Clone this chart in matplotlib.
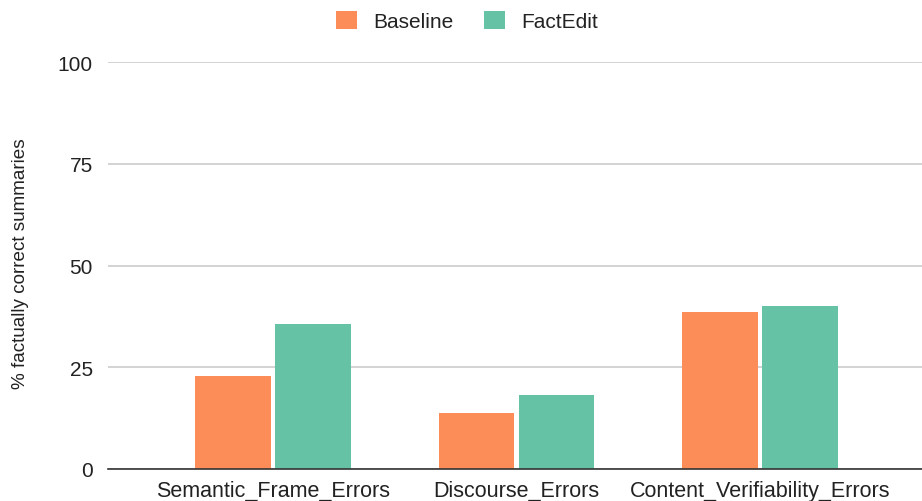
import matplotlib.pyplot as plt
import numpy as np

plt.rcParams['font.family'] = ['Liberation Sans', 'DejaVu Sans']

categories = ['Semantic_Frame_Errors', 'Discourse_Errors', 'Content_Verifiability_Errors']
baseline = [22.9, 13.8, 38.7]
factedit = [35.6, 18.2, 40.0]
yticks = [0, 25, 50, 75, 100]

fig = plt.figure(figsize=(9.22, 5.02), dpi=100)
ax = fig.add_axes([108 / 922, 1 - 470 / 502, 814 / 922, (470 - 63.2) / 502])

x = np.arange(len(categories))
w = 0.31
ax.bar(x - 0.164, baseline, w, color='#fc8d59', label='Baseline', zorder=3)
ax.bar(x + 0.164, factedit, w, color='#66c2a5', label='FactEdit', zorder=3)

ax.set_xlim(-0.678, 2.665)
ax.set_ylim(0, 100)
ax.set_yticks(yticks)
ax.set_xticks(x)
ax.set_xticklabels(categories, fontsize=15.5, color='#222222')
ax.tick_params(axis='y', labelsize=15, labelcolor='#222222', length=0, pad=11)
ax.tick_params(axis='x', length=0, pad=8)
ax.grid(axis='y', color='#cccccc', linewidth=1.2, zorder=0)
for s in ['top', 'right', 'left']:
    ax.spines[s].set_visible(False)
ax.spines['bottom'].set_color('#333333')
ax.spines['bottom'].set_linewidth(1.2)
ax.spines['bottom'].set_zorder(4)

fig.text(21 / 922, 1 - 264 / 502, '% factually correct summaries', rotation=90,
         ha='center', va='center', fontsize=13.6, color='#222222')

fig.legend(loc='center', bbox_to_anchor=(467 / 922, 1 - 22 / 502), ncol=2, frameon=False,
           fontsize=15, handlelength=1.0, handleheight=1.0, columnspacing=1.5,
           handletextpad=0.75, labelcolor='#222222')

fig.savefig('out.png', dpi=100)
